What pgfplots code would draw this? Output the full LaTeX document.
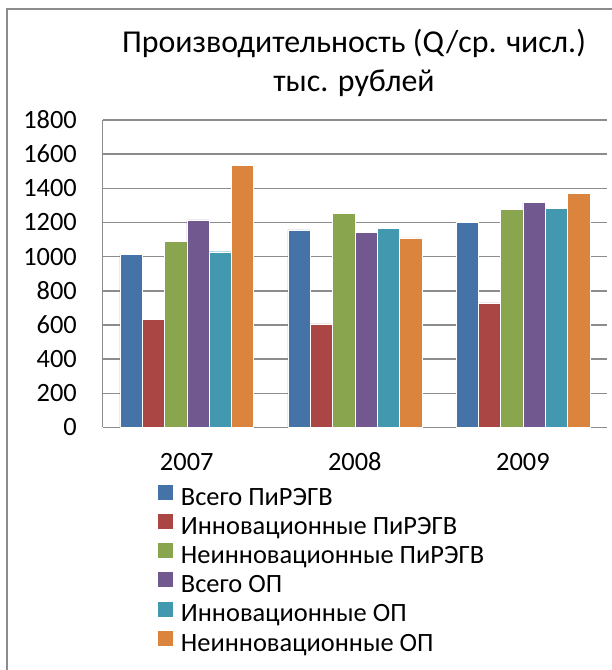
\documentclass[border=0pt]{standalone}
\usepackage{fontspec}
\setmainfont{Carlito}
\usepackage{pgfplots}
\pgfplotsset{compat=1.18}
\definecolor{cA}{HTML}{4572A7}
\definecolor{cB}{HTML}{AA4643}
\definecolor{cC}{HTML}{89A54E}
\definecolor{cD}{HTML}{71588F}
\definecolor{cE}{HTML}{4198AF}
\definecolor{cF}{HTML}{DB843D}
\definecolor{gridc}{HTML}{8C8C8C}
\begin{document}
\begin{tikzpicture}
\useasboundingbox (0bp,0bp) rectangle (612bp,670bp);
\draw[gridc, line width=1.5bp] (7bp,-10bp) -- (7bp,661bp) -- (630bp,661bp);
\node[anchor=base, inner sep=0pt, font=\fontsize{32}{38}\selectfont] at (354bp,617bp) {Производительность (Q/ср. числ.)};
\node[anchor=base, inner sep=0pt, font=\fontsize{32}{38}\selectfont] at (354bp,578bp) {тыс. рублей};
\begin{axis}[
  at={(102.7bp,242.5bp)}, anchor=south west,
  scale only axis, width=504.3bp, height=307.5bp,
  xmin=-0.5, xmax=2.5, ymin=0, ymax=1800,
  ybar=0pt, bar width=22.3bp,
  xtick={0,1,2}, xticklabels={2007,2008,2009},
  ytick={0,200,...,1800},
  scaled y ticks=false,
  /pgf/number format/1000 sep={},
  /pgf/number format/assume math mode=true,
  major tick length=0pt,
  axis x line*=bottom, axis y line*=left,
  axis line style={-, draw=gridc, line width=1.5bp},
  ymajorgrids, major grid style={draw=gridc, line width=1.5bp},
  tick label style={font=\fontsize{26.5}{32}\selectfont, inner sep=0pt},
  yticklabel style={anchor=east, xshift=-25.7bp},
  xticklabel style={anchor=north, yshift=-25.5bp, text height=17bp, text depth=0pt},
  every axis plot/.append style={draw=white, line width=0.4bp},
  legend style={at={(0.1097,-0.1857)}, anchor=north west, draw=none, fill=none,
    font=\fontsize{26.5}{32}\selectfont, inner sep=0pt, column sep=8bp,
    nodes={inner sep=0pt, text height=19.4bp, text depth=9bp}},
  legend cell align=left,
  area legend,
  legend image code/.code={\fill[#1, draw=none] (0bp,0bp) rectangle (14.7bp,15bp);},
]
\addplot[fill=cA] coordinates {(0,1015) (1,1157) (2,1200)};
\addplot[fill=cB] coordinates {(0,633) (1,606) (2,729)};
\addplot[fill=cC] coordinates {(0,1091) (1,1253) (2,1278)};
\addplot[fill=cD] coordinates {(0,1216) (1,1142) (2,1319)};
\addplot[fill=cE] coordinates {(0,1029) (1,1165) (2,1284)};
\addplot[fill=cF] coordinates {(0,1533) (1,1110) (2,1369)};
\legend{Всего ПиРЭГВ, Инновационные ПиРЭГВ, Неинновационные ПиРЭГВ, Всего ОП, Инновационные ОП, Неинновационные ОП}
\end{axis}
\end{tikzpicture}
\end{document}
